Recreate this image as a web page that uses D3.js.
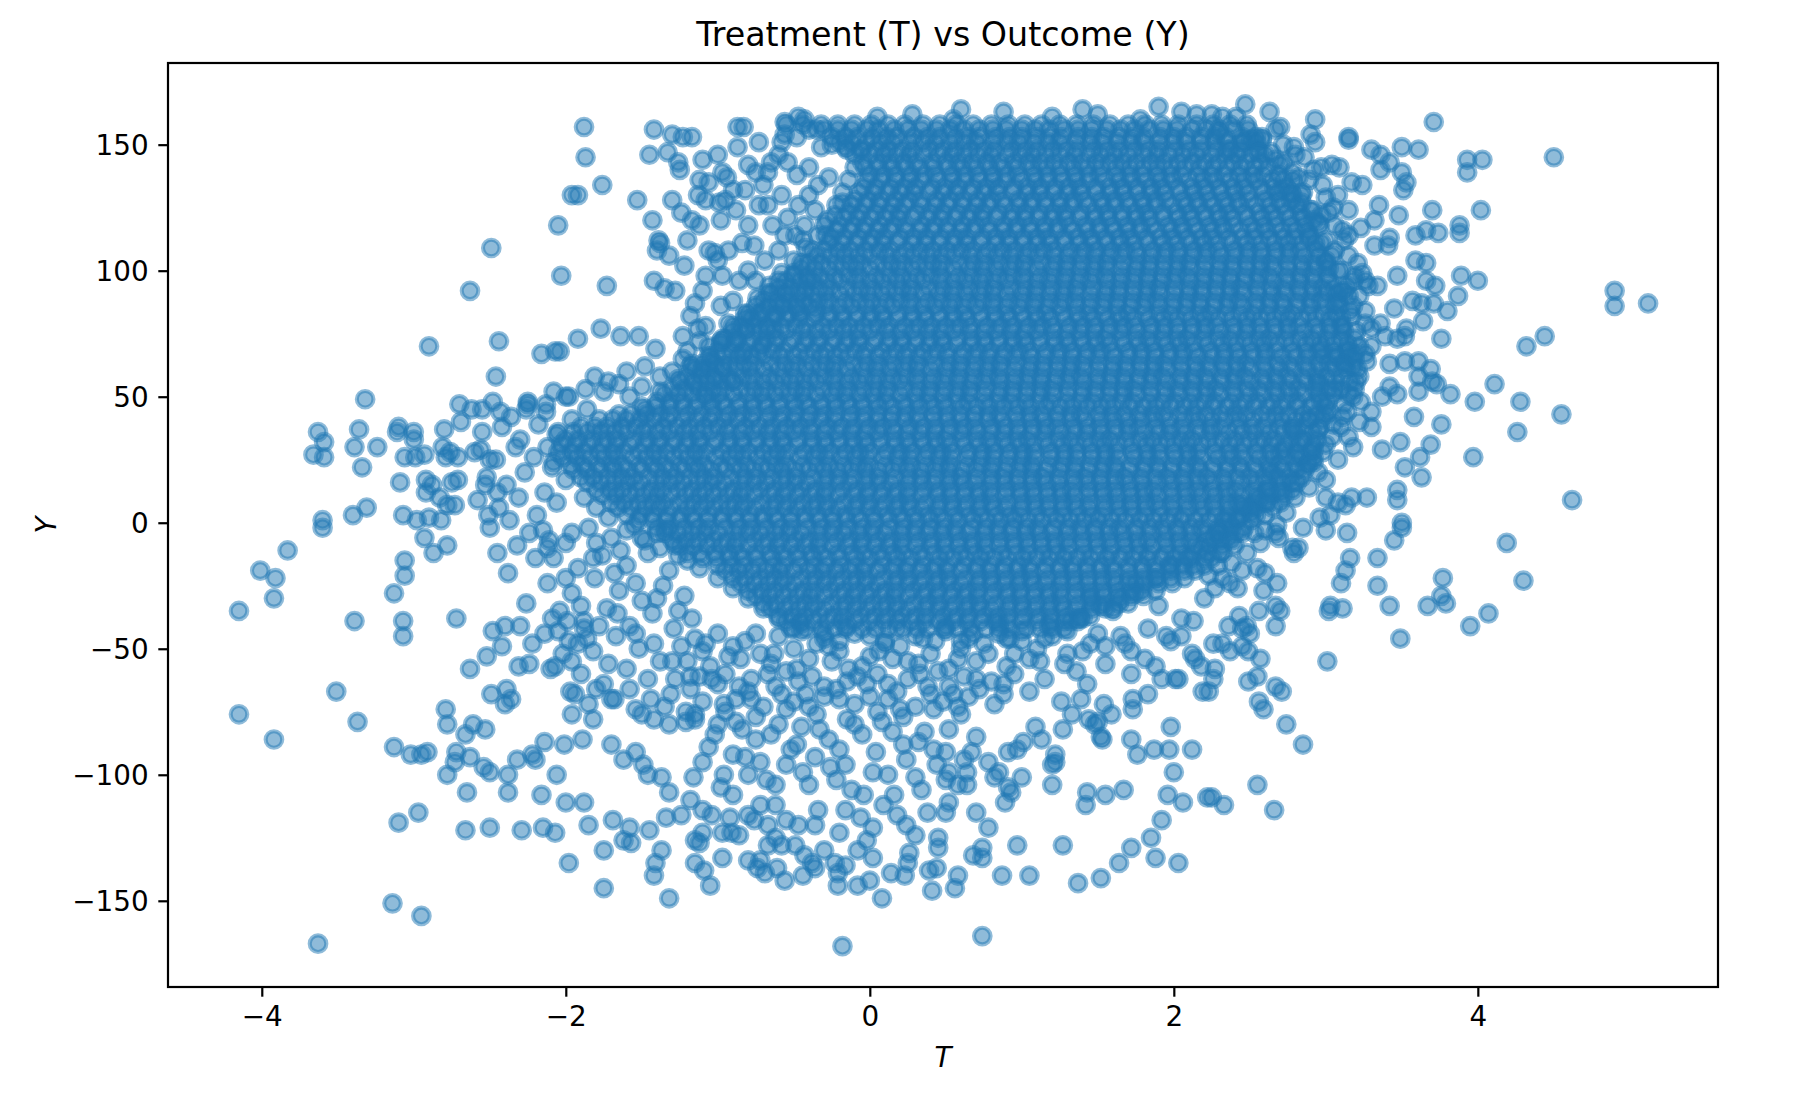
<!DOCTYPE html>
<html>
<head>
<meta charset="utf-8">
<title>Treatment (T) vs Outcome (Y)</title>
<script src="https://d3js.org/d3.v7.min.js"></script>
<style>
  body { margin: 0; background: #fff; }
  text { font-family: "DejaVu Sans", sans-serif; }
</style>
</head>
<body>
<div id="chart"></div>
<script>
const title = "Treatment (T) vs Outcome (Y)";
const xLabel = "T";
const yLabel = "Y";
const xTicks = [-4, -2, 0, 2, 4];
const yTicks = [-150, -100, -50, 0, 50, 100, 150];

// dense centre, one row per Y value: [Y, T*100, T*100, ...]
const coreRows = [
  [158, -55,-44,-32,-21,-10,1,12,23,35,46,57,68,80,91,102,113,125,136,147,158,170,181,192,203,215,226,237,248],
  [153, -25,-16,-8,2,11,18,29,38,46,56,65,72,83,92,100,110,119,126,137,146,154,164,173,180,191,200,208,218,227,234,245,254],
  [148, -15,-6,4,12,21,28,39,48,56,66,75,82,93,102,110,120,129,136,147,156,164,174,183,190,201,210,218,228,237,244,255],
  [143, -5,5,13,22,30,41,50,58,67,77,85,95,104,112,121,131,139,149,158,166,175,185,193,203,212,220,229,239,247,257],
  [138, 0,9,17,27,36,43,54,63,71,81,90,97,108,117,125,135,144,151,162,171,179,189,198,205,216,225,233,243,252,259,269],
  [133, -4,4,14,23,30,41,50,58,68,77,84,95,104,112,122,131,138,149,158,166,176,185,192,203,212,220,230,239,246,257,266,274],
  [128, -10,-1,7,17,26,33,44,53,61,71,80,87,98,107,115,125,134,141,152,161,169,179,188,195,206,215,223,233,242,249,260,269,277],
  [123, -14,-6,4,13,20,31,40,48,58,67,74,85,94,102,112,121,128,139,148,156,166,175,182,193,202,210,220,229,236,247,256,264,274,283],
  [118, -20,-11,-3,7,16,23,34,43,51,61,70,77,88,97,105,115,124,131,142,151,159,169,178,185,196,205,213,223,232,239,250,259,267,277,286],
  [113, -25,-17,-7,2,9,20,29,37,47,56,63,74,83,91,101,110,117,128,137,145,155,164,171,182,191,199,209,218,225,236,245,253,263,272,279,289],
  [108, -30,-21,-13,-3,6,13,24,33,41,51,60,67,78,87,95,105,114,121,132,141,149,159,168,175,186,195,203,213,222,229,240,249,257,267,276,283,294],
  [103, -40,-32,-22,-13,-6,5,14,22,32,41,48,59,68,76,86,95,102,113,122,130,140,149,156,167,176,184,194,203,210,221,230,238,248,257,264,275,284,292,300],
  [98, -50,-41,-33,-23,-14,-7,4,13,21,31,40,47,58,67,75,85,94,101,112,121,129,139,148,155,166,175,183,193,202,209,220,229,237,247,256,263,274,283,291,301],
  [93, -60,-52,-42,-33,-26,-15,-6,2,12,21,28,39,48,56,66,75,82,93,102,110,120,129,136,147,156,164,174,183,190,201,210,218,228,237,244,255,264,272,282,291,298,305],
  [88, -70,-61,-53,-43,-34,-27,-16,-7,1,11,20,27,38,47,55,65,74,81,92,101,109,119,128,135,146,155,163,173,182,189,200,209,217,227,236,243,254,263,271,281,290,297,308],
  [83, -80,-72,-62,-53,-46,-35,-26,-18,-8,1,8,19,28,36,46,55,62,73,82,90,100,109,116,127,136,144,154,163,170,181,190,198,208,217,224,235,244,252,262,271,278,289,298,306],
  [78, -85,-76,-68,-58,-49,-42,-31,-22,-14,-4,5,12,23,32,40,50,59,66,77,86,94,104,113,120,131,140,148,158,167,174,185,194,202,212,221,228,239,248,256,266,275,282,293,302,310],
  [73, -95,-87,-77,-68,-61,-50,-41,-33,-23,-14,-7,4,13,21,31,40,47,58,67,75,85,94,101,112,121,129,139,148,155,166,175,183,193,202,209,220,229,237,247,256,263,274,283,291,301,310],
  [68, -100,-91,-83,-73,-64,-57,-46,-37,-29,-19,-10,-3,8,17,25,35,44,51,62,71,79,89,98,105,116,125,133,143,152,159,170,179,187,197,206,213,224,233,241,251,260,267,278,287,295,305,314],
  [63, -110,-102,-92,-83,-76,-65,-56,-48,-38,-29,-22,-11,-2,6,16,25,32,43,52,60,70,79,86,97,106,114,124,133,140,151,160,168,178,187,194,205,214,222,232,241,248,259,268,276,286,295,302,313],
  [58, -120,-111,-103,-93,-84,-77,-66,-57,-49,-39,-30,-23,-12,-3,5,15,24,31,42,51,59,69,78,85,96,105,113,123,132,139,150,159,167,177,186,193,204,213,221,231,240,247,258,267,275,285,294,301,310],
  [53, -130,-122,-112,-103,-96,-85,-76,-68,-58,-49,-42,-31,-22,-14,-4,5,12,23,32,40,50,59,66,77,86,94,104,113,120,131,140,148,158,167,174,185,194,202,212,221,228,239,248,256,266,275,282,293,302,310],
  [48, -140,-131,-123,-113,-104,-97,-86,-77,-69,-59,-50,-43,-32,-23,-15,-5,4,11,22,31,39,49,58,65,76,85,93,103,112,119,130,139,147,157,166,173,184,193,201,211,220,227,238,247,255,265,274,281,292,301],
  [43, -165,-157,-147,-138,-131,-120,-111,-103,-93,-84,-77,-66,-57,-49,-39,-30,-23,-12,-3,5,15,24,31,42,51,59,69,78,85,96,105,113,123,132,139,150,159,167,177,186,193,204,213,221,231,240,247,258,267,275,285,294,300],
  [38, -190,-181,-173,-163,-154,-147,-136,-127,-119,-109,-100,-93,-82,-73,-65,-55,-46,-39,-28,-19,-11,-1,8,15,26,35,43,53,62,69,80,89,97,107,116,123,134,143,151,161,170,177,188,197,205,215,224,231,242,251,259,269,278,285,296],
  [33, -200,-192,-182,-173,-166,-155,-146,-138,-128,-119,-112,-101,-92,-84,-74,-65,-58,-47,-38,-30,-20,-11,-4,7,16,24,34,43,50,61,70,78,88,97,104,115,124,132,142,151,158,169,178,186,196,205,212,223,232,240,250,259,266,277,286,294],
  [28, -205,-196,-188,-178,-169,-162,-151,-142,-134,-124,-115,-108,-97,-88,-80,-70,-61,-54,-43,-34,-26,-16,-7,0,11,20,28,38,47,54,65,74,82,92,101,108,119,128,136,146,155,162,173,182,190,200,209,216,227,236,244,254,263,270,281,290],
  [23, -197,-189,-179,-170,-163,-152,-143,-135,-125,-116,-109,-98,-89,-81,-71,-62,-55,-44,-35,-27,-17,-8,-1,10,19,27,37,46,53,64,73,81,91,100,107,118,127,135,145,154,161,172,181,189,199,208,215,226,235,243,253,262,269,280,288],
  [18, -190,-182,-172,-163,-156,-145,-136,-128,-118,-109,-102,-91,-82,-74,-64,-55,-48,-37,-28,-20,-10,-1,6,17,26,34,44,53,60,71,80,88,98,107,114,125,134,142,152,161,168,179,188,196,206,215,222,233,242,250,260,269,276,284],
  [13, -180,-171,-163,-153,-144,-137,-126,-117,-109,-99,-90,-83,-72,-63,-55,-45,-36,-29,-18,-9,-1,9,18,25,36,45,53,63,72,79,90,99,107,117,126,133,144,153,161,171,180,187,198,207,215,225,234,241,252,261,269,278],
  [8, -170,-162,-152,-143,-136,-125,-116,-108,-98,-89,-82,-71,-62,-54,-44,-35,-28,-17,-8,0,10,19,26,37,46,54,64,73,80,91,100,108,118,127,134,145,154,162,172,181,188,199,208,216,226,235,242,253,262,270],
  [3, -160,-151,-143,-133,-124,-117,-106,-97,-89,-79,-70,-63,-52,-43,-35,-25,-16,-9,2,11,19,29,38,45,56,65,73,83,92,99,110,119,127,137,146,153,164,173,181,191,200,207,218,227,235,245,254,260],
  [-2, -140,-132,-122,-113,-106,-95,-86,-78,-68,-59,-52,-41,-32,-24,-14,-5,2,13,22,30,40,49,56,67,76,84,94,103,110,121,130,138,148,157,164,175,184,192,202,211,218,229,238,246],
  [-7, -130,-121,-113,-103,-94,-87,-76,-67,-59,-49,-40,-33,-22,-13,-5,5,14,21,32,41,49,59,68,75,86,95,103,113,122,129,140,149,157,167,176,183,194,203,211,221,230,238],
  [-12, -120,-112,-102,-93,-86,-75,-66,-58,-48,-39,-32,-21,-12,-4,6,15,22,33,42,50,60,69,76,87,96,104,114,123,130,141,150,158,168,177,184,195,204,212,222,230],
  [-17, -100,-91,-83,-73,-64,-57,-46,-37,-29,-19,-10,-3,8,17,25,35,44,51,62,71,79,89,98,105,116,125,133,143,152,159,170,179,187,197,206,213,220],
  [-22, -90,-82,-72,-63,-56,-45,-36,-28,-18,-9,-2,9,18,26,36,45,52,63,72,80,90,99,106,117,126,134,144,153,160,171,180,188,198,207],
  [-27, -80,-71,-63,-53,-44,-37,-26,-17,-9,1,10,17,28,37,45,55,64,71,82,91,99,109,118,125,136,145,153,163,172,179,188],
  [-32, -70,-62,-52,-43,-36,-25,-16,-8,2,11,18,29,38,46,56,65,72,83,92,100,110,119,126,137,146,154,164,170],
  [-37, -60,-51,-43,-33,-24,-17,-6,3,11,21,30,37,48,57,65,75,84,91,102,111,119,129,138,145],
  [-42, -50,-42,-32,-23,-16,-5,4,12,22,31,38,49,58,66,76,85,92,103,112,120,128]
];

// second pass over the dense centre, read between the rows above
const coreRowsB = [
  [156, -40,-30,-21,-12,-2,6,16,25,34,44,53,62,72,81,90,100,109,118,128,137,146,156,165,174,184,193,202,212,221,230,240,249],
  [151, -20,-12,-2,7,15,26,35,43,53,62,70,81,90,98,108,117,125,136,145,153,163,172,180,191,200,208,218,227,235,246,254],
  [146, -10,0,9,17,26,35,45,54,62,71,80,90,99,107,116,125,135,144,152,161,170,180,189,197,206,215,225,234,242,251,260],
  [141, -3,6,15,24,33,42,52,61,70,79,88,97,107,116,125,134,143,152,162,171,180,189,198,207,217,226,235,244,253,262],
  [136, -2,7,17,26,34,45,54,62,72,81,89,100,109,117,127,136,144,155,164,172,182,191,199,210,219,227,237,246,254,265,272],
  [131, -7,3,12,20,29,39,48,57,66,75,84,94,103,112,121,130,139,149,158,167,176,185,194,204,213,222,231,240,249,259,268,277],
  [126, -12,-3,6,15,23,34,43,51,61,70,78,89,98,106,116,125,133,144,153,161,171,180,188,199,208,216,226,235,243,254,263,271,281],
  [121, -17,-8,1,10,19,28,38,47,56,65,74,83,93,102,111,120,129,138,148,157,166,175,184,193,203,212,221,230,239,248,258,267,276,285],
  [116, -22,-13,-4,5,13,24,33,41,51,60,68,79,88,96,106,115,123,134,143,151,161,170,178,189,198,206,216,225,233,244,253,261,271,280,288],
  [111, -27,-18,-9,0,9,18,28,37,46,55,64,73,83,92,101,110,119,128,138,147,156,165,174,183,193,202,211,220,229,238,248,257,266,275,284,293],
  [106, -35,-26,-17,-8,0,11,20,28,38,47,55,66,75,83,93,102,110,121,130,138,148,157,165,176,185,193,203,212,220,231,240,248,258,267,275,286,295],
  [101, -45,-36,-27,-18,-9,0,10,19,28,37,46,55,65,74,83,92,101,110,120,129,138,147,156,165,175,184,193,202,211,220,230,239,248,257,266,275,285,294,302],
  [96, -55,-46,-37,-28,-20,-9,0,8,18,27,35,46,55,63,73,82,90,101,110,118,128,137,145,156,165,173,183,192,200,211,220,228,238,247,255,266,275,283,293,302],
  [91, -65,-56,-47,-38,-29,-20,-10,-1,8,17,26,35,45,54,63,72,81,90,100,109,118,127,136,145,155,164,173,182,191,200,210,219,228,237,246,255,265,274,283,292,301,308],
  [86, -75,-66,-57,-48,-40,-29,-20,-12,-2,7,15,26,35,43,53,62,70,81,90,98,108,117,125,136,145,153,163,172,180,191,200,208,218,227,235,246,255,263,273,282,290,301,309],
  [81, -82,-73,-64,-55,-46,-37,-27,-18,-9,0,9,18,28,37,46,55,64,73,83,92,101,110,119,128,138,147,156,165,174,183,193,202,211,220,229,238,248,257,266,275,284,293,303,310],
  [76, -90,-81,-72,-63,-55,-44,-35,-27,-17,-8,0,11,20,28,38,47,55,66,75,83,93,102,110,121,130,138,148,157,165,176,185,193,203,212,220,231,240,248,258,267,275,286,295,303,312],
  [71, -98,-89,-80,-71,-62,-53,-43,-34,-25,-16,-7,2,12,21,30,39,48,57,67,76,85,94,103,112,122,131,140,149,158,167,177,186,195,204,213,222,232,241,250,259,268,277,287,296,305,314],
  [66, -105,-96,-87,-78,-70,-59,-50,-42,-32,-23,-15,-4,5,13,23,32,40,51,60,68,78,87,95,106,115,123,133,142,150,161,170,178,188,197,205,216,225,233,243,252,260,271,280,288,298,307,315],
  [61, -115,-106,-97,-88,-79,-70,-60,-51,-42,-33,-24,-15,-5,4,13,22,31,40,50,59,68,77,86,95,105,114,123,132,141,150,160,169,178,187,196,205,215,224,233,242,251,260,270,279,288,297,306,313],
  [56, -125,-116,-107,-98,-90,-79,-70,-62,-52,-43,-35,-24,-15,-7,3,12,20,31,40,48,58,67,75,86,95,103,113,122,130,141,150,158,168,177,185,196,205,213,223,232,240,251,260,268,278,287,295,306],
  [51, -135,-126,-117,-108,-99,-90,-80,-71,-62,-53,-44,-35,-25,-16,-7,2,11,20,30,39,48,57,66,75,85,94,103,112,121,130,140,149,158,167,176,185,195,204,213,222,231,240,250,259,268,277,286,295,305],
  [46, -150,-141,-132,-123,-115,-104,-95,-87,-77,-68,-60,-49,-40,-32,-22,-13,-5,6,15,23,33,42,50,61,70,78,88,97,105,116,125,133,143,152,160,171,180,188,198,207,215,226,235,243,253,262,270,281,290,300],
  [41, -178,-169,-160,-151,-142,-133,-123,-114,-105,-96,-87,-78,-68,-59,-50,-41,-32,-23,-13,-4,5,14,23,32,42,51,60,69,78,87,97,106,115,124,133,142,152,161,170,179,188,197,207,216,225,234,243,252,262,271,280,289,298],
  [36, -195,-186,-177,-168,-160,-149,-140,-132,-122,-113,-105,-94,-85,-77,-67,-58,-50,-39,-30,-22,-12,-3,5,16,25,33,43,52,60,71,80,88,98,107,115,126,135,143,153,162,170,181,190,198,208,217,225,236,245,253,263,272,280,291],
  [31, -203,-194,-185,-176,-167,-158,-148,-139,-130,-121,-112,-103,-93,-84,-75,-66,-57,-48,-38,-29,-20,-11,-2,7,17,26,35,44,53,62,72,81,90,99,108,117,127,136,145,154,163,172,182,191,200,209,218,227,237,246,255,264,273,282,292],
  [26, -202,-193,-184,-175,-167,-156,-147,-139,-129,-120,-112,-101,-92,-84,-74,-65,-57,-46,-37,-29,-19,-10,-2,9,18,26,36,45,53,64,73,81,91,100,108,119,128,136,146,155,163,174,183,191,201,210,218,229,238,246,256,265,273,284,292],
  [21, -195,-186,-177,-168,-159,-150,-140,-131,-122,-113,-104,-95,-85,-76,-67,-58,-49,-40,-30,-21,-12,-3,6,15,25,34,43,52,61,70,80,89,98,107,116,125,135,144,153,162,171,180,190,199,208,217,226,235,245,254,263,272,281],
  [16, -186,-177,-168,-159,-151,-140,-131,-123,-113,-104,-96,-85,-76,-68,-58,-49,-41,-30,-21,-13,-3,6,14,25,34,42,52,61,69,80,89,97,107,116,124,135,144,152,162,171,179,190,199,207,217,226,234,245,254,262,272,281],
  [11, -176,-167,-158,-149,-140,-131,-121,-112,-103,-94,-85,-76,-66,-57,-48,-39,-30,-21,-11,-2,7,16,25,34,44,53,62,71,80,89,99,108,117,126,135,144,154,163,172,181,190,199,209,218,227,236,245,254,264,273],
  [6, -166,-157,-148,-139,-131,-120,-111,-103,-93,-84,-76,-65,-56,-48,-38,-29,-21,-10,-1,7,17,26,34,45,54,62,72,81,89,100,109,117,127,136,144,155,164,172,182,191,199,210,219,227,237,246,254,265],
  [1, -152,-143,-134,-125,-116,-107,-97,-88,-79,-70,-61,-52,-42,-33,-24,-15,-6,3,13,22,31,40,49,58,68,77,86,95,104,113,123,132,141,150,159,168,178,187,196,205,214,223,233,242,251],
  [-4, -135,-126,-117,-108,-100,-89,-80,-72,-62,-53,-45,-34,-25,-17,-7,2,10,21,30,38,48,57,65,76,85,93,103,112,120,131,140,148,158,167,175,186,195,203,213,222,230,241],
  [-9, -125,-116,-107,-98,-89,-80,-70,-61,-52,-43,-34,-25,-15,-6,3,12,21,30,40,49,58,67,76,85,95,104,113,122,131,140,150,159,168,177,186,195,205,214,223,232],
  [-14, -110,-101,-92,-83,-75,-64,-55,-47,-37,-28,-20,-9,0,8,18,27,35,46,55,63,73,82,90,101,110,118,128,137,145,156,165,173,183,192,200,211,220],
  [-19, -95,-86,-77,-68,-59,-50,-40,-31,-22,-13,-4,5,15,24,33,42,51,60,70,79,88,97,106,115,125,134,143,152,161,170,180,189,198,207,214],
  [-24, -85,-76,-67,-58,-50,-39,-30,-22,-12,-3,5,16,25,33,43,52,60,71,80,88,98,107,115,126,135,143,153,162,170,181,190,199],
  [-29, -75,-66,-57,-48,-39,-30,-20,-11,-2,7,16,25,35,44,53,62,71,80,90,99,108,117,126,135,145,154,163,172,180],
  [-34, -65,-56,-47,-38,-30,-19,-10,-2,8,17,25,36,45,53,63,72,80,91,100,108,118,127,135,146,155,160],
  [-39, -55,-46,-37,-28,-19,-10,0,9,18,27,36,45,55,64,73,82,91,100,110,119,128,137]
];

// points straddling the edge of the dense centre, pairs: T*100, Y
const edgePts = [
  5,161, 28,162, 55,160, 88,163, 120,161, 150,162, 178,160, 205,163, 232,161, 60,164, 140,164, 190,165, 215,162,
  -148,45, -138,52, -126,57, -118,62, -106,66, -98,72, -90,78, -82,83, -74,89, -66,94, -58,99, -50,104, -42,109,
  -34,114, -28,120, -22,126, -18,131, -14,136, -10,141, -35,156, -48,153,
  -45,-40, -30,-44, -15,-41, 0,-45, 18,-42, 35,-46, 50,-41, 68,-44, 85,-40, 100,-43, 118,-41, 132,-39, -20,-47, 10,-48,
  60,-47, 90,-46,
  140,-38, 152,-33, 165,-30, 175,-24, 188,-22, 198,-17, 208,-14, 218,-10, 226,-6, 234,-2, 242,2, 250,6, 256,10,
  292,24, 298,28, 304,34, 310,38, 314,44, 318,50, 320,56, 318,62, 322,70, 320,76, 316,84, 312,92, 308,100, 304,106,
  300,112, 296,118, 290,124, 284,130, 278,136, 270,142, 264,147, 258,152,
  -212,30, -208,24, -205,36, -200,17, -196,41, -188,10, -180,6, -172,2, -160,-3, -150,-6, -138,-10, -126,-13, -112,-18,
  -100,-22, -90,-26, -80,-30, -70,-34, -60,-38, -52,-42
];

// looser points around the centre, pairs: T*100, Y
const fringePts = [
  -117,153, -110,144, -87,157, -83,157, -87,149, -73,151, -56,159, -47,161, -43,160, -56,154, -58,151, -65,143, -54,143,
  -67,139, -75,139, -97,139, -94,137, -106,135, -113,130, -108,128, -99,127, -95,128, -117,120, -82,132, -73,126, -67,126,
  -58,130, -47,126, -40,130, -34,134, -27,137, -32,149, -25,150, -16,149, -5,148, -80,118, -84,111, -106,108, -102,107,
  -93,108, -97,98, -108,98, -115,87, -69,104, -60,108, -49,114, -43,118, -56,114, -45,103, -38,108, -29,114, -23,122,
  -18,127, -86,96, -75,96, -67,91, -54,91, -43,92, -58,86, -47,85, -36,85, -93,79, -97,73, -113,77, -106,70, -82,77,
  -71,70, -84,67, -117,63, -110,61, -102,57, -115,55, -108,50, -67,77, -62,82,
  -175,52, -165,55, -158,50, -150,54, -160,60, -148,62, -138,58,
  225,162, 229,155, 236,148, 245,151, 251,152, 258,153, 267,156, 270,157, 256,147, 267,144, 273,143, 278,139, 282,137,
  289,136, 271,132, 278,130, 284,127, 291,124, 297,122, 302,123, 295,119, 306,118, 311,116, 315,114, 289,114, 297,111,
  306,108, 315,106, 321,103, 310,100, 319,98, 326,96, 315,90, 306,87, 317,82, 311,78, 326,79, 330,77, 319,73, 315,69,
  306,66, 298,69, 311,63, 321,61, 326,67, 319,67, 295,55, 306,53, 315,51, 297,48, 302,44, 311,42, 289,41, 295,37, 278,37,
  284,33, 273,29, 280,26, 289,24, 295,20, 300,17, 289,14, 278,16, 271,12, 265,20, 260,8, 251,4, 245,7, 236,1,
  229,-4, 236,-6, 245,-4, 253,-4, 260,-3, 267,-4, 269,-6, 240,-9, 232,-12, 225,-14, 229,-17, 238,-16, 223,-21, 232,-22,
  -262,45, -248,48, -236,42, -225,47, -213,44, -200,50, -255,36, -242,38, -230,33, -218,39, -206,35, -260,28, -246,25,
  -233,30, -221,26, -209,22, -252,18, -239,15, -227,20, -214,12, -258,9, -244,6, -231,10, -219,3, -206,8, -250,-2,
  -237,1, -224,-4, -211,-7, -245,-12, -232,-9, -220,-14,
  -215,-3, -200,-8, -185,-2, -170,-6, -155,-1, -140,-4, -128,-9, -208,-14, -192,-18, -176,-13, -160,-17, -146,-12,
  -132,-19, -120,-15, -212,-24, -196,-28, -181,-22, -165,-27, -150,-31, -136,-25, -122,-29, -204,-35, -188,-39, -173,-34,
  -158,-41, -143,-36, -129,-42, -117,-38, -198,-47, -182,-51, -167,-45, -152,-50, -138,-55, -124,-49, -190,-60, -175,-64,
  -160,-58, -146,-62, -131,-68, -118,-61, -185,-72, -168,-70, -150,-76, -135,-73, -121,-79,
  -115,-46, -100,-44, -82,-47, -60,-45, -45,-43, -30,-46, -10,-44, 10,-47, 30,-45, 50,-43, 65,-46, 85,-44, 100,-47,
  120,-45, 130,-43, 145,-48, 165,-45, -110,-51, -90,-49, -72,-52, -50,-50, -35,-48, -20,-51, 0,-53, 20,-49, 40,-52,
  60,-50, 75,-48, 95,-52, 110,-50, 140,-51, 155,-49, -120,-55, -105,-57, -85,-54, -65,-56, -48,-58, -25,-55, -5,-57,
  15,-54, 32,-56, 52,-58, 70,-55, 90,-57, 105,-54, 128,-56, -112,-61, -95,-60, -78,-62, -55,-59, -38,-61, -15,-63,
  5,-60, 25,-62, 45,-59, 62,-61, 80,-63, 95,-60, 115,-62, -118,-66, -100,-64, -80,-67, -62,-65, -42,-68, -22,-66,
  -2,-64, 18,-67, 38,-65, 55,-68, 72,-66, 88,-64, 105,-67, -110,-71, -88,-70, -70,-73, -50,-71, -30,-69, -10,-72,
  12,-70, 30,-73, 48,-71, 65,-69, 82,-72, -115,-76, -95,-75, -75,-77, -55,-74, -35,-76, -15,-78, 5,-75, 22,-77, 42,-74, 60,-76,
  145,-30, 160,-35, 175,-28, 190,-33, 205,-38, 220,-30, 150,-44, 168,-48, 183,-42, 198,-47, 212,-52, 155,-56, 172,-60,
  188,-57, 130,-52, 115,-46, 138,-38,
  -115,-78, -102,-84, -88,-79, -75,-86, -60,-80, -48,-88, -33,-82, -20,-90, -5,-84, 8,-79, 22,-88, 36,-83, 50,-91,
  -110,-95, -96,-100, -82,-93, -68,-102, -55,-96, -40,-104, -26,-97, -12,-106, 2,-99, 16,-108, 30,-101, 44,-96, 58,-104,
  -118,-110, -104,-116, -90,-108, -76,-118, -62,-112, -47,-120, -34,-114, -20,-123, -6,-117, 9,-112, 24,-120, 38,-115,
  -112,-127, -86,-124, -58,-128, -30,-130, -2,-126, 26,-131, -72,-134, -44,-140, -16,-136
];

// more of the looser points, read in a second pass
const fringeExtra = [
  -108,-48, -93,-53, -75,-44, -63,-52, -40,-54, -27,-49, -14,-58, 6,-51, 25,-55, 43,-47, 58,-54, 78,-52, 92,-46, 112,-55,
  -104,-62, -86,-65, -67,-60, -47,-63, -30,-65, -8,-61, 12,-64, 33,-60, 52,-65, 70,-62, 88,-68, -96,-72, -78,-70, -58,-68,
  -40,-73, -20,-70, 0,-69, 20,-74, 40,-68, 58,-73,
  -100,-80, -84,-82, -65,-84, -45,-81, -27,-86, -10,-80, 15,-83, 32,-87, 52,-82, 70,-85,
  -106,-89, -90,-92, -72,-95, -52,-90, -36,-93, -16,-96, 4,-91, 24,-94, 42,-90, 62,-94,
  -116,-101, -98,-105, -80,-100, -62,-104, -44,-99, -22,-102, -4,-108, 12,-100, 34,-106, 50,-102,
  -110,-114, -92,-117, -72,-112, -55,-118, -36,-120, -16,-114, 2,-121, 18,-116, 30,-124,
  -238,-20, -226,-32, -214,-44, -202,-52, -190,-33, -178,-41, -166,-36, -154,-44, -142,-48, -130,-55, -182,-14, -168,-20,
  -154,-24, -140,-30, -126,-35, -200,-22, -212,-10, -196,-4, -180,-8, -164,-11, -148,-7, -134,-3, -172,-56, -158,-66,
  -144,-70, -128,-62, -180,-66, -192,-48,
  -125,140, -112,136, -100,146, -90,132, -80,142, -70,134, -60,146, -48,138, -40,141, -120,112, -112,118, -98,120,
  -88,124, -76,110, -64,118, -54,121, -44,112, -36,124, -30,118, -122,102, -110,92, -100,104, -90,88, -80,100, -70,84,
  -60,96, -50,99, -40,96, -118,82, -108,78, -98,86, -88,72, -78,81, -120,68, -112,72, -104,64, -96,62, -90,56, -130,60,
  -128,92, -132,106, -130,128,
  272,150, 280,146, 292,140, 285,131, 300,129, 292,120, 305,125, 312,112, 300,104, 314,94, 322,90, 318,86, 326,84,
  330,70, 322,58, 316,56, 312,47, 305,39, 300,31, 292,29, 286,21, 280,10, 274,4, 268,-1, 262,13, 257,-8, 300,10, 308,25,
  318,30, 322,40
];

// scattered points on the left, pairs: T*100, Y
const westPts = [
  -188,157, -187,145, -142,156, -130,154, -145,146, -133,147, -126,143, -123,153, -176,134, -196,130, -192,130, -153,128,
  -205,118, -143,120, -124,123, -139,112, -138,111, -140,108, -249,109, -203,98, -263,92, -173,94, -142,96, -135,93,
  -290,70, -244,72, -177,77, -164,74, -152,74, -141,69, -192,73, -216,67, -207,68, -204,68, -246,58, -123,74, -123,65,
  -332,49, -181,58, -172,56, -363,36, -359,32, -366,27, -359,26, -336,37, -339,30, -334,22, -324,30, -270,47, -269,40,
  -255,45, -243,44, -310,38, -300,36, -300,33, -311,36, -280,37, -306,26, -299,26, -293,27, -281,30, -276,28, -271,26,
  -279,26, -256,29, -250,25, -309,16, -292,17, -288,15, -275,16, -271,17, -292,12, -283,10, -278,7, -273,7, -253,15,
  -245,12, -340,3, -331,6, -360,1, -307,3, -298,1, -290,2, -282,1, -251,3, -225,48, -226,45, -213,47, -208,52, -198,50,
  -187,53, -186,45,
  -360,-2, -383,-11, -401,-19, -391,-22, -392,-30, -415,-35, -339,-39, -307,-39, -307,-45, -313,-28, -306,-15, -306,-21,
  -293,-6, -287,-12, -278,-9, -272,-38, -415,-76, -392,-86, -351,-67, -337,-79, -310,-119, -297,-115, -314,-151, -295,-156,
  -363,-167, -313,-89, -302,-92, -295,-92, -291,-91, -279,-74, -278,-80, -272,-91, -273,-95, -263,-93, -278,-100, -265,-107,
  -266,-122, -250,-121, -229,-122, -215,-121, -207,-123, -263,-58, -252,-53, -249,-68, -239,-66, -240,-72, -236,-70,
  -261,-80, -253,-82, -266,-84, -254,-97, -250,-99, -238,-100, -238,-107, -232,-94, -222,-92, -220,-94, -214,-87,
  -206,-100, -216,-108, -200,-111, -188,-111, -185,-120, -198,-135, -175,-130, -175,-145, -158,-121, -169,-118, -162,-126,
  -157,-127, -145,-122, -137,-130, -141,-135, -142,-140, -132,-149, -134,-117, -124,-116, -231,-57, -224,-56, -222,-48,
  -242,-49, -248,-43, -240,-41, -230,-41, -210,-58, -207,-57, -196,-55, -209,-38, -205,-43, -199,-39, -188,-42, -186,-46,
  -197,-67, -194,-68, -196,-76, -182,-78, -189,-86, -201,-88, -170,-88, -162,-94, -154,-91, -149,-96, -146,-100, -137,-101,
  -132,-107, -170,-70, -154,-74, -142,-78, -132,-80, -121,-75
];

// scattered points on the right, pairs: T*100, Y
const eastPts = [
  263,163, 247,166, 241,161, 293,160, 290,154, 293,151, 279,149, 286,145, 315,153, 315,152, 371,159, 330,148, 336,146,
  342,143, 350,149, 361,148, 393,144, 403,144, 393,139, 450,145, 297,141, 304,142, 309,141, 336,140, 350,139, 353,135,
  351,132, 298,134, 317,135, 324,134, 308,130, 315,124, 335,126, 348,122, 370,124, 402,124, 332,120, 323,117, 359,114,
  366,116, 374,115, 388,118, 388,115, 342,113, 332,110, 341,110, 359,104, 366,103, 347,98, 324,99, 366,96, 372,94,
  389,98, 400,96, 490,92, 490,86, 512,87, 387,90, 328,94, 334,94, 310,92, 318,96, 345,85, 357,88, 363,87, 371,87, 380,84,
  336,79, 353,77, 364,80, 376,73, 339,74, 347,73, 352,74, 432,70, 444,74, 319,65, 327,64, 342,63, 352,64, 361,64, 369,61,
  370,56, 373,55, 361,58, 361,52, 342,54, 347,51, 337,50, 382,51, 398,48, 411,55, 428,48, 455,43, 426,36, 319,53, 323,48,
  330,44, 330,38, 358,42, 376,39, 315,34, 337,29, 349,32, 362,26, 369,31, 352,22, 363,18, 397,26, 347,13, 347,9, 317,10,
  327,10, 350,0, 462,9, 296,2, 303,3, 308,8, 313,7,
  419,-8, 430,-23, 377,-22, 376,-29, 379,-32, 367,-33, 407,-36, 395,-41, 349,-46, 342,-33, 334,-14, 334,-25, 345,-7,
  350,-2, 316,-14, 313,-19, 310,-24, 303,-33, 302,-35, 311,-34, 300,-3, 314,-4, 301,-55, 285,-2, 278,-10, 282,-10,
  279,-12, 248,-12, 245,-19, 255,-18, 260,-20, 268,-24, 242,-26, 227,-26, 237,-24, 259,-27, 267,-33, 270,-35, 256,-35,
  267,-41, 243,-37, 236,-41, 245,-42, 248,-41, 250,-44, 226,-48, 232,-48, 237,-51, 245,-49, 249,-51, 257,-54, 227,-58,
  226,-62, 223,-67, 249,-63, 255,-61, 267,-65, 271,-67, 256,-71, 259,-74, 274,-80, 285,-88, 255,-104, 225,-109, 233,-112,
  266,-114
];

// scattered points at the bottom, pairs: T*100, Y
const southPts = [
  -18,-168, 74,-164, -105,-144, -109,-138, -115,-135, -97,-133, -80,-134, -74,-137, -69,-139, -61,-137, -56,-142,
  -21,-144, -21,-139, -23,-135, -8,-144, 0,-142, 2,-133, -8,-130, 8,-149, 14,-139, 23,-140, 25,-135, 39,-138, 44,-137,
  41,-146, 56,-145, 58,-140, 45,-129, 45,-125, 87,-140, 105,-140, 137,-143, 152,-141, 127,-128, 68,-132, 74,-129,
  74,-133, 97,-128, 164,-135, 172,-129, 185,-125, 188,-133, 203,-135, 192,-118, 196,-108, 206,-111, 200,-99, 143,-107,
  142,-112, 155,-108, 167,-106, 172,-86, 176,-92, 187,-90, 197,-90, 212,-90, 198,-81, 222,-109, 120,-104, 122,-95,
  122,-92, 120,-96, 127,-82, 148,-80, 153,-86, 152,-85, 173,-70, 183,-68, 173,-74, 192,-62, 201,-62, 203,-62, 214,-54,
  218,-57, 219,-67, 205,-45, 213,-39, 195,-45, 181,-54, 172,-51, 126,-71, 133,-76, 139,-70, 144,-78, 150,-79, 159,-76,
  154,-72, 143,-64, 136,-59, 113,-86, 109,-81, 101,-87, 91,-91, 97,-90, 85,-99, 82,-101, 93,-107, 89,-111, 100,-101,
  91,-105, 70,-115, 78,-121, 52,-111, 50,-115, 64,-99, 64,-104, 52,-99, 78,-95, 67,-91, -49,-128, -43,-132, -38,-135,
  -36,-137, -67,-128, -62,-125, -67,-120, -80,-116, -91,-123, -97,-123, -115,-126, -110,-123
];

const points = [];
[coreRows, coreRowsB].forEach(rows => rows.forEach(row => {
  for (let i = 1; i < row.length; i++) points.push({ t: row[i] / 100, y: row[0] });
}));
[edgePts, fringePts, fringeExtra, westPts, eastPts, southPts].forEach(list => {
  for (let i = 0; i < list.length; i += 2) points.push({ t: list[i] / 100, y: list[i + 1] });
});

const w = 1812;
const h = 1098;
const plotLeft = 168, plotTop = 63, plotW = 1550, plotH = 924;
const fontSize = 27.8;
const tickLen = 9.7;
const color = "#1f77b4";

const minus = d => d < 0 ? "\u2212" + Math.abs(d) : String(d);

const svg = d3.select("#chart")
  .append("svg")
  .attr("width", w)
  .attr("height", h)
  .style("background", "#fff");

const x = d3.scaleLinear().domain([-4.617, 5.58]).range([plotLeft, plotLeft + plotW]);
const y = d3.scaleLinear().domain([-184.2, 182.4]).range([plotTop + plotH, plotTop]);

svg.append("clipPath")
  .attr("id", "plot-clip")
  .append("rect")
  .attr("x", plotLeft).attr("y", plotTop)
  .attr("width", plotW).attr("height", plotH);

svg.append("g")
  .attr("clip-path", "url(#plot-clip)")
  .selectAll("circle")
  .data(points)
  .join("circle")
  .attr("cx", d => x(d.t))
  .attr("cy", d => y(d.y))
  .attr("r", 8.3)
  .attr("fill", color)
  .attr("fill-opacity", 0.5)
  .attr("stroke", color)
  .attr("stroke-opacity", 0.5)
  .attr("stroke-width", 4.1);

const xAxis = svg.append("g")
  .attr("transform", `translate(0,${plotTop + plotH})`)
  .call(d3.axisBottom(x).tickValues(xTicks).tickSize(tickLen).tickPadding(9.7).tickFormat(minus));

const yAxis = svg.append("g")
  .attr("transform", `translate(${plotLeft},0)`)
  .call(d3.axisLeft(y).tickValues(yTicks).tickSize(tickLen).tickPadding(9.7).tickFormat(minus));

[xAxis, yAxis].forEach(g => {
  g.select(".domain").remove();
  g.selectAll(".tick line").attr("stroke", "#000").attr("stroke-width", 2.2);
  g.selectAll(".tick text")
    .attr("fill", "#000")
    .style("font-family", "'DejaVu Sans', sans-serif")
    .style("font-size", fontSize + "px");
});
yAxis.selectAll(".tick text").attr("dy", "0.35em");

// axes frame
svg.append("rect")
  .attr("x", plotLeft).attr("y", plotTop)
  .attr("width", plotW).attr("height", plotH)
  .attr("fill", "none")
  .attr("stroke", "#000")
  .attr("stroke-width", 2.2);

svg.append("text")
  .attr("x", plotLeft + plotW / 2)
  .attr("y", 46)
  .attr("text-anchor", "middle")
  .style("font-size", "33.3px")
  .text(title);

svg.append("text")
  .attr("x", plotLeft + plotW / 2)
  .attr("y", 1067)
  .attr("text-anchor", "middle")
  .style("font-size", fontSize + "px")
  .style("font-style", "italic")
  .text(xLabel);

svg.append("text")
  .attr("transform", `translate(56,${plotTop + plotH / 2}) rotate(-90)`)
  .attr("text-anchor", "middle")
  .style("font-size", fontSize + "px")
  .style("font-style", "italic")
  .text(yLabel);
</script>
</body>
</html>
